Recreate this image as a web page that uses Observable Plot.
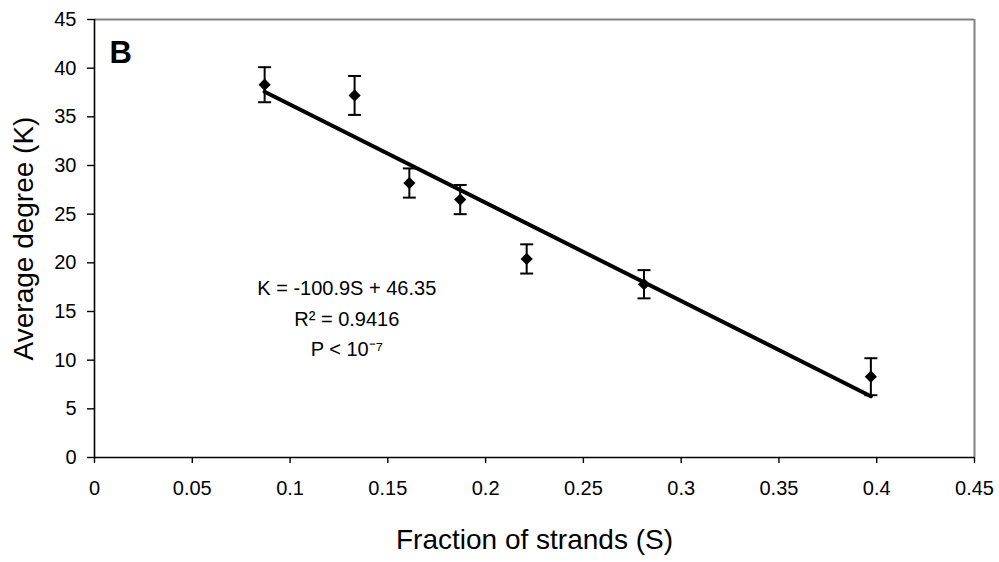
<!DOCTYPE html>
<html>
<head>
<meta charset="utf-8">
<script src="https://cdn.jsdelivr.net/npm/d3@7"></script>
<script src="https://cdn.jsdelivr.net/npm/@observablehq/plot@0.6"></script>
<style>
  html, body { margin: 0; padding: 0; background: #fff; }
  svg { display: block; }
</style>
</head>
<body>
<div id="chart"></div>
<script>
// Data
const sValues = [0.087, 0.133, 0.161, 0.187, 0.221, 0.281, 0.397];
const kValues = [38.3, 37.2, 28.2, 26.5, 20.4, 17.8, 8.3];
const kErrors = [1.8, 2.0, 1.5, 1.5, 1.5, 1.45, 1.9];
const xTicks = [0, 0.05, 0.1, 0.15, 0.2, 0.25, 0.3, 0.35, 0.4, 0.45];
const yTicks = [0, 5, 10, 15, 20, 25, 30, 35, 40, 45];
const fitSlope = -100.9;
const fitIntercept = 46.35;
const annotationLines = ["K = -100.9S + 46.35", "R\u00B2 = 0.9416", "P < 10\u207B\u2077"];
const panelLabel = "B";
const xTitle = "Fraction of strands (S)";
const yTitle = "Average degree (K)";

const points = sValues.map((s, i) => ({s, k: kValues[i], lo: kValues[i] - kErrors[i], hi: kValues[i] + kErrors[i]}));
const sMin = d3.min(sValues), sMax = d3.max(sValues);
const fit = [sMin, sMax].map(s => ({s, k: fitSlope * s + fitIntercept}));

const capSymbol = {
  draw(context, size) {
    context.moveTo(-6.5, 0);
    context.lineTo(6.5, 0);
  }
};

const fmt = d => String(Math.round(d * 100) / 100);

const chart = Plot.plot({
  width: 999,
  height: 562,
  marginLeft: 94,
  marginRight: 25,
  marginTop: 19,
  marginBottom: 105,
  style: {fontFamily: "'Liberation Sans', Arial, sans-serif", color: "#000", background: "#fff"},
  x: {domain: [0, 0.45]},
  y: {domain: [0, 45]},
  marks: [
    Plot.ruleY([45], {stroke: "#808080", strokeWidth: 2}),
    Plot.ruleX([0.45], {stroke: "#808080", strokeWidth: 2}),
    Plot.ruleX([0], {stroke: "#000", strokeWidth: 1.6}),
    Plot.ruleY([0], {stroke: "#000", strokeWidth: 1.6}),
    Plot.axisX({ticks: xTicks, tickFormat: fmt, tickSize: 6, tickPadding: 17, fontSize: 20, label: null, stroke: "#000", strokeWidth: 1.4}),
    Plot.axisY({ticks: yTicks, tickFormat: fmt, tickSize: 7, tickPadding: 11, fontSize: 20, label: null, stroke: "#000", strokeWidth: 1.4}),
    Plot.line(fit, {x: "s", y: "k", stroke: "#000", strokeWidth: 4}),
    Plot.ruleX(points, {x: "s", y1: "lo", y2: "hi", stroke: "#000", strokeWidth: 2}),
    Plot.dot(points, {x: "s", y: "lo", symbol: capSymbol, stroke: "#000", strokeWidth: 2, r: 3}),
    Plot.dot(points, {x: "s", y: "hi", symbol: capSymbol, stroke: "#000", strokeWidth: 2, r: 3}),
    Plot.dot(points, {x: "s", y: "k", symbol: "diamond2", fill: "#000", stroke: "none", r: 5.5}),
    Plot.text([annotationLines.join("\n")], {x: 0.129, y: 18.87, text: d => d, textAnchor: "middle", lineAnchor: "top", lineHeight: 1.525, fontSize: 20, fill: "#000"}),
    Plot.text([panelLabel], {frameAnchor: "top-left", dx: 15, dy: 43, text: d => d, textAnchor: "start", lineAnchor: "bottom", fontSize: 31, fontWeight: "bold", fill: "#000"}),
    Plot.text([xTitle], {frameAnchor: "bottom", dy: 91, text: d => d, textAnchor: "middle", lineAnchor: "bottom", fontSize: 28, fill: "#000"}),
    Plot.text([yTitle], {frameAnchor: "left", dx: -62, text: d => d, rotate: -90, textAnchor: "middle", lineAnchor: "bottom", fontSize: 28, fill: "#000"})
  ]
});
document.getElementById("chart").appendChild(chart);
</script>
</body>
</html>
